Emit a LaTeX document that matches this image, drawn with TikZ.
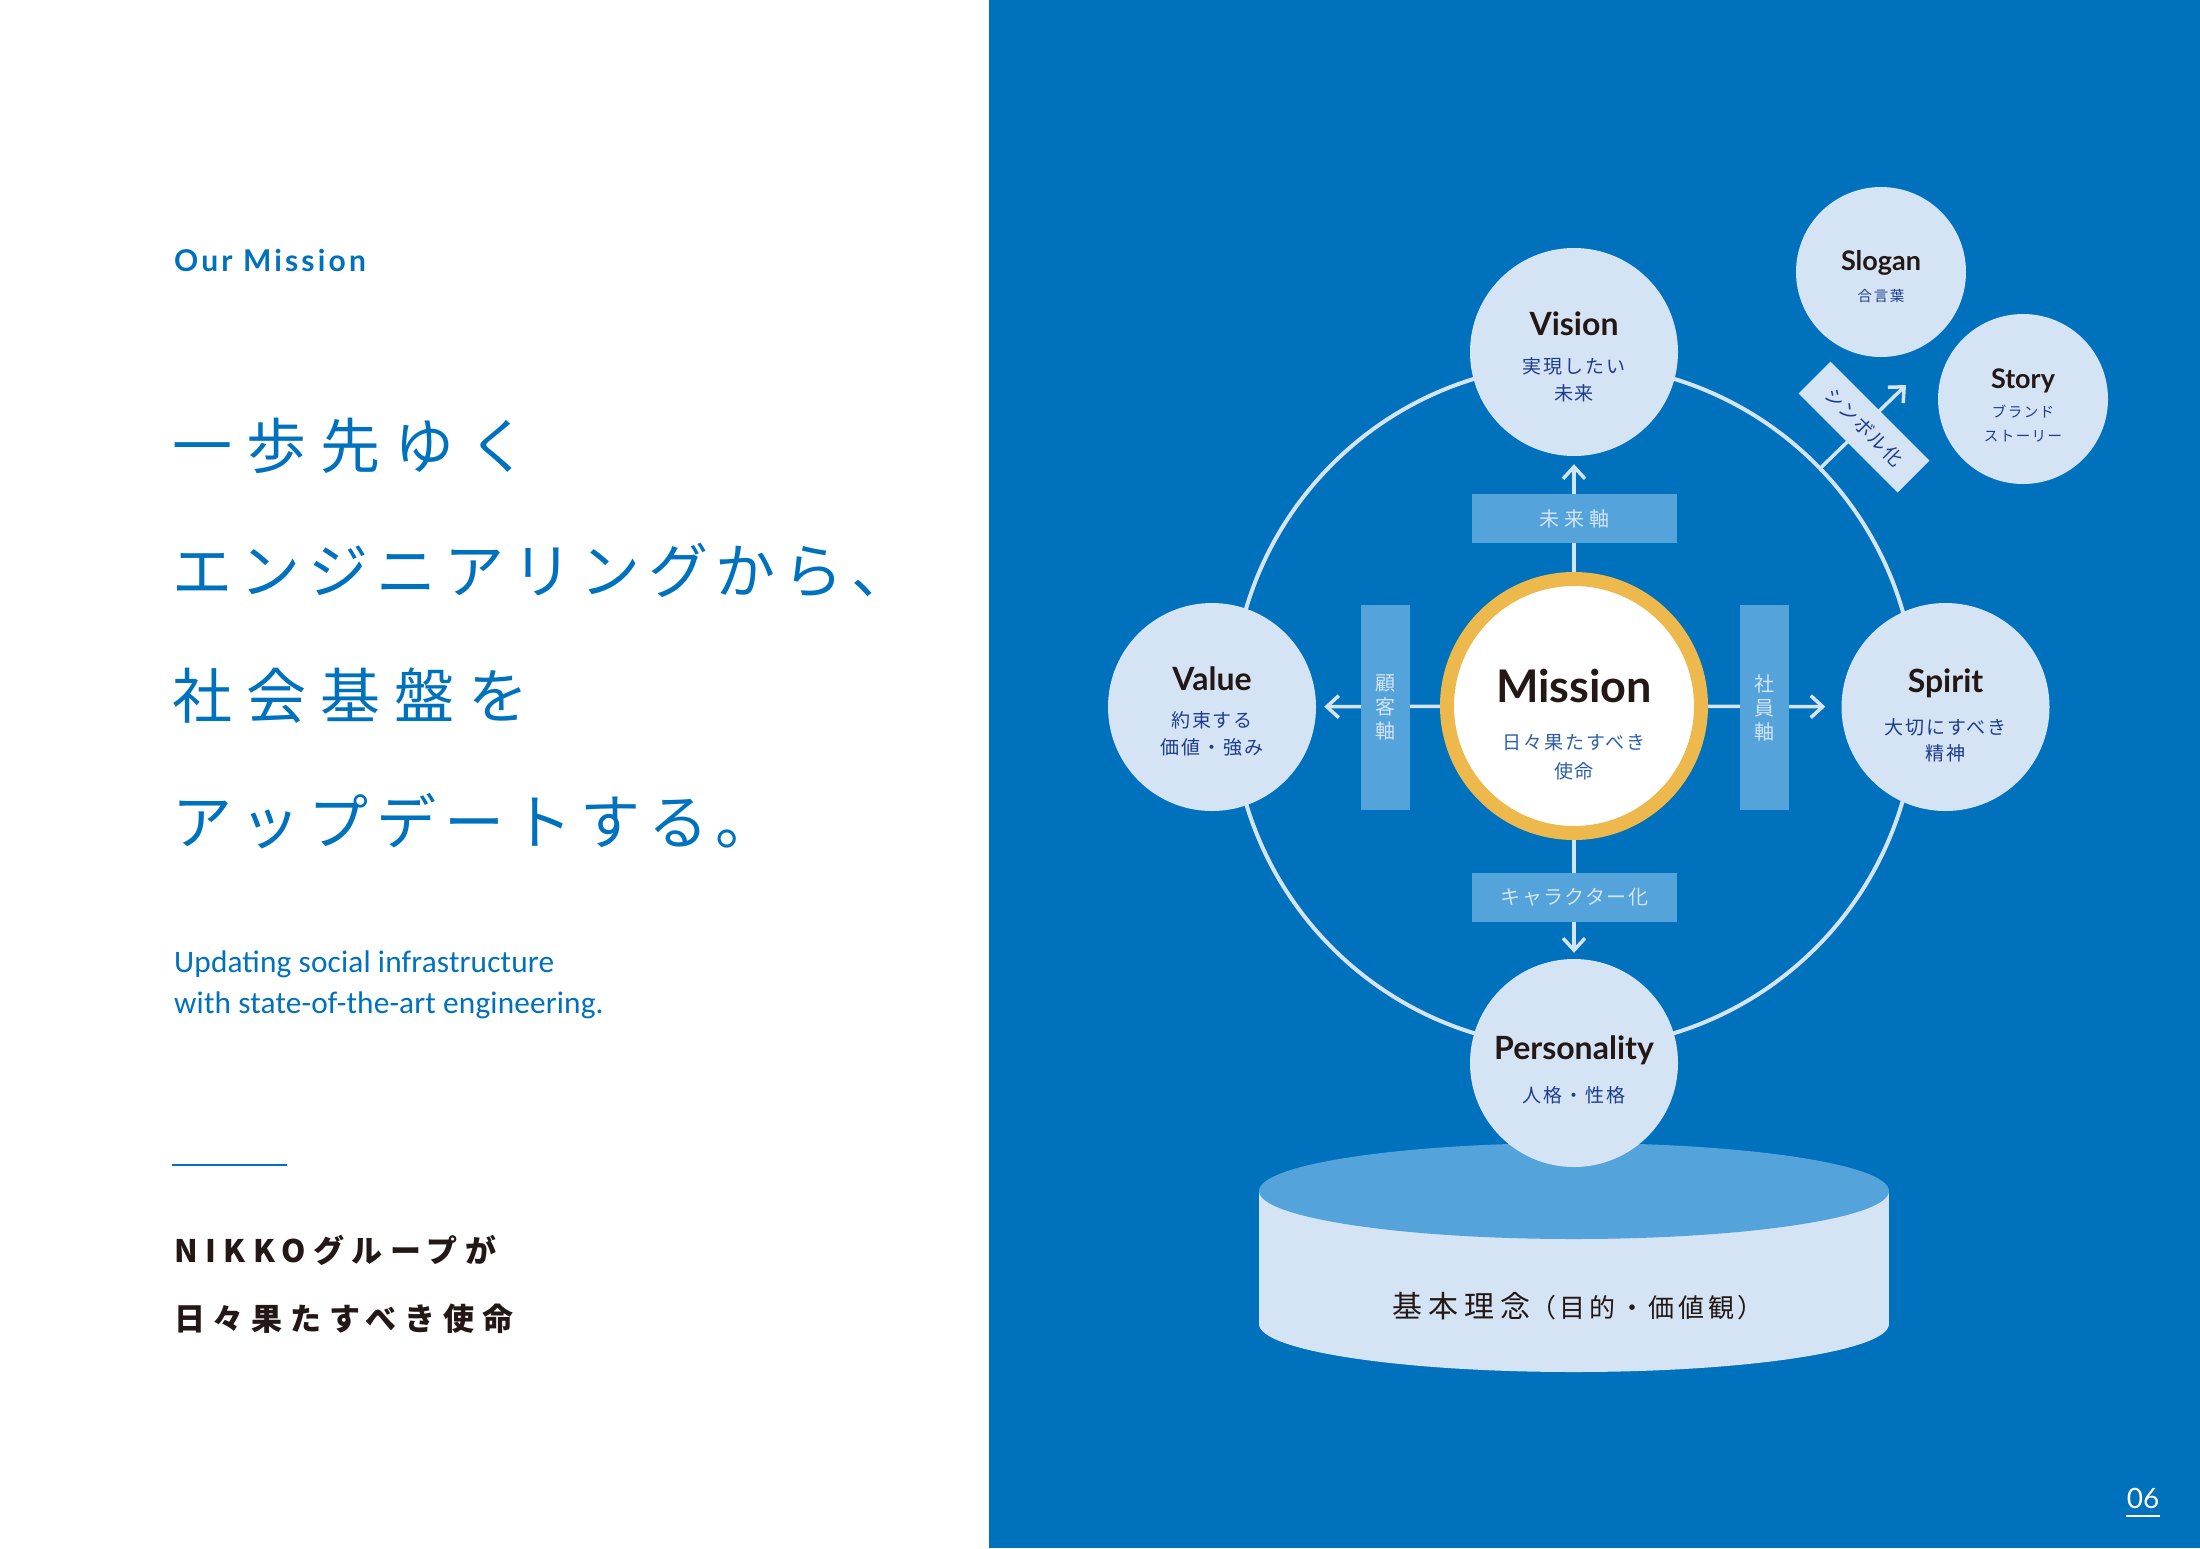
\documentclass[tikz,border=0pt]{standalone}
\usepackage{fontspec}
\setmainfont{Lato}
\newfontfamily\jp{Noto Sans CJK JP}
\newfontfamily\eng{Carlito}
\usetikzlibrary{arrows.meta}
\definecolor{panel}{RGB}{0,113,188}
\definecolor{pale}{RGB}{213,228,244}
\definecolor{midblue}{RGB}{84,163,219}
\definecolor{gold}{RGB}{237,184,76}
\definecolor{ink}{RGB}{35,24,21}
\definecolor{navy}{RGB}{30,60,140}
\definecolor{mblue}{RGB}{45,95,170}
\pgfdeclarelayer{back}
\pgfdeclarelayer{lines}
\pgfsetlayers{back,lines,main}
\newcommand\fs[2]{\fontsize{#1}{#2}\selectfont}
\newcommand\lsp[1]{\addfontfeatures{LetterSpace=#1}}
\begin{document}
\begin{tikzpicture}[x=1pt,y=-1pt,
  topic/.style={circle, fill=pale, minimum size=208pt, inner sep=0pt},
  smalltopic/.style={circle, fill=pale, minimum size=170pt, inner sep=0pt},
  missionbox/.style={circle, fill=white, draw=gold, line width=14pt, minimum size=254pt, inner sep=0pt},
  title/.style={anchor=base, inner sep=0pt, text=ink, font=\bfseries\fs{32}{32}},
  smalltitle/.style={anchor=base, inner sep=0pt, text=ink, font=\bfseries\fs{27}{27}},
  sub/.style={inner sep=0pt, text=navy, align=center, font=\jp\fs{19}{26.5}},
  smallsub/.style={inner sep=0pt, text=navy, align=center, font=\jp\fs{14.5}{24}},
  tag/.style={fill=midblue, text=pale, inner sep=0pt, minimum width=205pt, minimum height=49pt, font=\jp\fs{20}{20}},
  vtag/.style={fill=midblue, text=pale, inner sep=0pt, minimum width=49pt, minimum height=205pt, align=center, font=\jp\fs{20}{24}},
  arr/.style={draw=pale, line width=3.5pt, -{Straight Barb[length=12pt, width=22pt]}},
  heading/.style={anchor=west, inner sep=0pt, text=panel, font=\jp\fs{60}{60}},
  english/.style={anchor=base west, inner sep=0pt, text=panel, font=\eng\fs{31.3}{31.3}},
  statement/.style={anchor=west, inner sep=0pt, text=ink, font=\jp\bfseries\fs{31}{31}}
]
\useasboundingbox (0,0) rectangle (2200,1548);
\begin{pgfonlayer}{back}
\fill[white] (0,0) rectangle (2200,1548);
\fill[panel] (989,0) rectangle (2200,1548);
\end{pgfonlayer}

% ---- left page
\node[anchor=base west, inner sep=0pt, text=panel, font=\bfseries\fs{30}{30}] (ourmission) at (174,271) {\lsp{10.5}Our Mission};
\node[heading] (h1) at (172,446) {\lsp{23.3}一歩先ゆく};
\node[heading] (h2) at (172,570) {\lsp{13.3}エンジニアリングから、};
\node[heading] (h3) at (172,696) {\lsp{23.3}社会基盤を};
\node[heading] (h4) at (172,821) {\lsp{13.3}アップデートする。};
\node[english] (en1) at (174,972) {\lsp{0.5}Updating social infrastructure};
\node[english] (en2) at (174,1013) {\lsp{0.5}with state-of-the-art engineering.};
\draw[panel, line width=2pt] (172,1165) -- (287,1165);
\node[statement] (st1) at (174,1250) {\lsp{24}NIKKOグループが};
\node[statement] (st2) at (174,1319) {\lsp{25}日々果たすべき使命};

% ---- right page
\begin{pgfonlayer}{lines}
\node[circle, draw=pale, line width=4pt, minimum size=684pt, inner sep=0pt] (ring) at (1574,706) {};
\end{pgfonlayer}

\node[topic] (vision) at (1574,352) {};
\node[topic] (value) at (1212,707) {};
\node[topic] (spirit) at (1945.5,707) {};
\node[smalltopic] (slogan) at (1881,272) {};
\node[smalltopic] (story) at (2023,399) {};
\node[missionbox] (mission) at (1574,706) {};

\node[tag] (future) at (1574.5,518.5) {\lsp{25}未来軸};
\node[tag] (chara) at (1574.5,897.5) {\lsp{7}キャラクター化};
\node[vtag] (customer) at (1385.5,707.5) {顧\\客\\軸};
\node[vtag] (staff) at (1764.5,707.5) {社\\員\\軸};

\coordinate (symS) at (ring.44);
\coordinate (symE) at (1906,385);
\node[fill=pale, text=navy, minimum width=140pt, minimum height=45pt, inner sep=0pt, rotate=-45, font=\jp\fs{19}{19}] (symbol) at (1864,427) {\lsp{8}シンボル化};

% cylinder
\fill[pale] (1259,1191) rectangle (1889,1324);
\fill[pale] (1574,1324) ellipse [x radius=315pt, y radius=48pt];
\fill[midblue] (1574,1191) ellipse [x radius=315pt, y radius=48pt];
\node[inner sep=0pt, text=ink, font=\jp\fs{30}{30}] (basis) at (1578,1306) {\lsp{20}基本理念{\fs{26}{26}\lsp{14}（目的・価値観）}};

\node[topic] (personality) at (1574,1063) {};

\begin{pgfonlayer}{lines}
\draw[arr, shorten >=8pt] (mission) -- (vision);
\draw[arr, shorten >=6pt] (mission) -- (personality);
\draw[arr, shorten >=8pt] (mission) -- (value);
\draw[arr, shorten >=16pt] (mission) -- (spirit);
\draw[arr] (symS) -- (symE);
\end{pgfonlayer}

% texts in circles
\node[title] (visionT) at (1574,335) {Vision};
\node[sub] (visionS) at (1574,380) {\lsp{10}実現したい\\\lsp{10}未来};
\node[title] (valueT) at (1212,690) {Value};
\node[sub] (valueS) at (1212,734) {\lsp{10}約束する\\\lsp{10}価値・強み};
\node[title] (spiritT) at (1945.5,692) {Spirit};
\node[sub] (spiritS) at (1945.5,740.5) {\lsp{10}大切にすべき\\\lsp{10}精神};
\node[title] (personalityT) at (1574,1059) {Personality};
\node[sub] (personalityS) at (1574,1095) {\lsp{10}人格・性格};
\node[anchor=base, inner sep=0pt, text=ink, font=\bfseries\fs{45}{45}] (missionT) at (1574,702) {Mission};
\node[sub, text=mblue, font=\jp\fs{19}{29.5}] (missionS) at (1574,757) {\lsp{10}日々果たすべき\\\lsp{10}使命};
\node[smalltitle] (sloganT) at (1881,270) {Slogan};
\node[smallsub] (sloganS) at (1881,295.5) {\lsp{12}合言葉};
\node[smalltitle] (storyT) at (2023,388) {Story};
\node[smallsub] (storyS) at (2023,424) {\lsp{10}ブランド\\\lsp{10}ストーリー};

% page number
\node[inner sep=0pt, text=white, font=\fs{28}{28}] (page) at (2143,1498) {06};
\draw[white, line width=1.5pt] (2126,1516) -- (2160,1516);
\end{tikzpicture}
\end{document}
